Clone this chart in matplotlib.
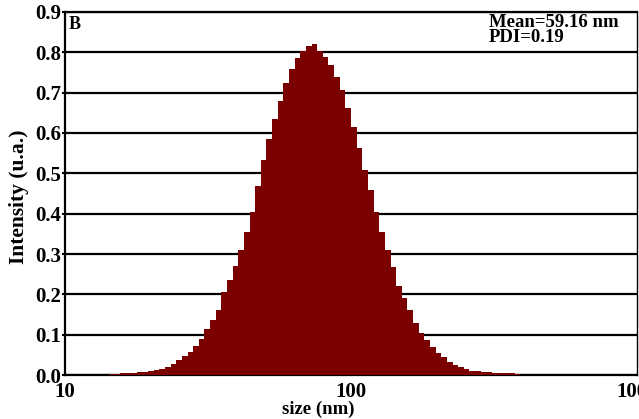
import numpy as np
import matplotlib
matplotlib.use("Agg")
import matplotlib.pyplot as plt
from matplotlib.ticker import FixedLocator, FixedFormatter, NullLocator

# DLS size distribution (intensity weighted), log-spaced size classes
size_min = 14.2     # nm, lower edge of first class
size_max = 390.5    # nm, upper edge of last class
intensity = [0.003, 0.003, 0.004, 0.006, 0.006, 0.007, 0.008, 0.011, 0.012, 0.016,
             0.020, 0.028, 0.036, 0.046, 0.058, 0.072, 0.090, 0.113, 0.137, 0.162,
             0.205, 0.235, 0.270, 0.310, 0.355, 0.405, 0.468, 0.533, 0.585, 0.635,
             0.680, 0.724, 0.759, 0.786, 0.803, 0.815, 0.820, 0.803, 0.789, 0.769,
             0.739, 0.707, 0.662, 0.615, 0.563, 0.508, 0.459, 0.405, 0.355, 0.310,
             0.268, 0.220, 0.190, 0.161, 0.130, 0.105, 0.087, 0.070, 0.055, 0.044,
             0.033, 0.025, 0.019, 0.014, 0.010, 0.009, 0.008, 0.007, 0.006, 0.006,
             0.005, 0.004, 0.003]

x_ticks = [10, 100, 1000]
x_labels = ['10', '100', '1000']
y_ticks = [0.0, 0.1, 0.2, 0.3, 0.4, 0.5, 0.6, 0.7, 0.8, 0.9]

panel = 'B'
stats_text = 'Mean=59.16 nm\nPDI=0.19'

plt.rcParams['font.family'] = ['Liberation Serif', 'DejaVu Serif']
plt.rcParams['font.weight'] = 'bold'

edges = np.geomspace(size_min, size_max, len(intensity) + 1)

fig = plt.figure(figsize=(6.39, 4.19), dpi=100)
ax = fig.add_axes([65 / 639, 1 - 375 / 419, 572 / 639, 363 / 419])

ax.stairs(intensity, edges, fill=True, color='#7b0000', zorder=3)

ax.set_xscale('log')
ax.set_xlim(10, 1000)
ax.set_ylim(0, 0.9)

ax.xaxis.set_major_locator(FixedLocator(x_ticks))
ax.xaxis.set_major_formatter(FixedFormatter(x_labels))
ax.xaxis.set_minor_locator(NullLocator())
ax.set_yticks(y_ticks)
ax.set_yticklabels([f'{v:.1f}' for v in y_ticks])

ax.tick_params(axis='x', length=0, pad=5, labelsize=15)
ax.tick_params(axis='y', length=2, width=1.5, pad=1, labelsize=15)

ax.grid(axis='y', color='black', linewidth=1.6, zorder=1)
ax.set_axisbelow(True)
for side in ['left', 'top', 'bottom']:
    ax.spines[side].set_linewidth(1.6)
ax.spines['right'].set_linewidth(1.0)

ax.set_xlabel('size (nm)', fontsize=13.5, fontweight='bold')
ax.xaxis.set_label_coords((318 - 65) / 572, -0.071)
ax.set_ylabel('Intensity (u.a.)', fontsize=15.5, fontweight='bold')
ax.yaxis.set_label_coords(-(65 - 29) / 572, 0.49)

ax.text(0.007, 0.988, panel, transform=ax.transAxes, ha='left', va='top',
        fontsize=13, fontweight='bold')
ax.text(0.741, 0.995, stats_text, transform=ax.transAxes, ha='left', va='top',
        fontsize=13.5, fontweight='bold', linespacing=0.85)

fig.savefig('out.png', dpi=100)
